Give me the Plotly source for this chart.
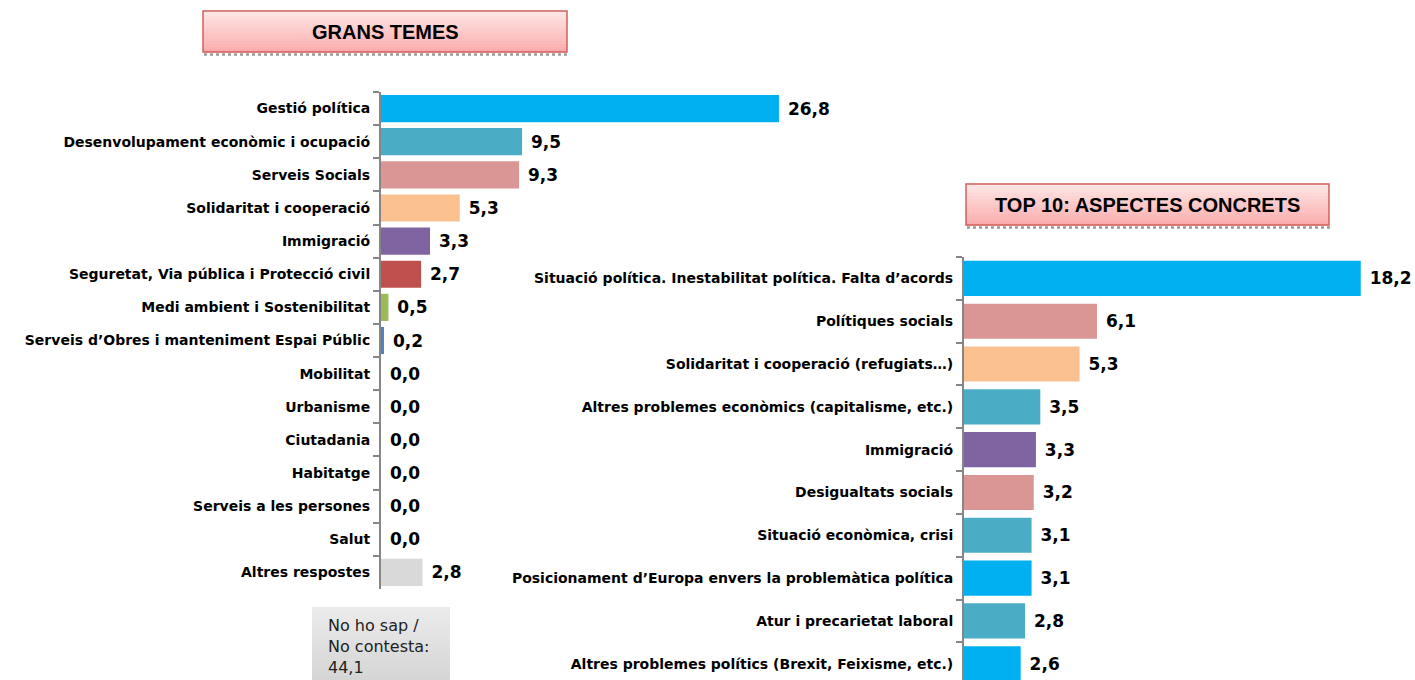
import plotly.graph_objects as go

# ---- Data: GRANS TEMES ----
left_cats = [
    "Gestió política",
    "Desenvolupament econòmic i ocupació",
    "Serveis Socials",
    "Solidaritat i cooperació",
    "Immigració",
    "Seguretat, Via pública i Protecció civil",
    "Medi ambient i Sostenibilitat",
    "Serveis d’Obres i manteniment Espai Públic",
    "Mobilitat",
    "Urbanisme",
    "Ciutadania",
    "Habitatge",
    "Serveis a les persones",
    "Salut",
    "Altres respostes",
]
left_vals = [26.8, 9.5, 9.3, 5.3, 3.3, 2.7, 0.5, 0.2, 0.0, 0.0, 0.0, 0.0, 0.0, 0.0, 2.8]
left_colors = ["#00B0F0", "#4BACC6", "#D99694", "#FAC090", "#8064A2", "#C0504D",
               "#9BBB59", "#4F81BD", "#FFFFFF", "#FFFFFF", "#FFFFFF", "#FFFFFF",
               "#FFFFFF", "#FFFFFF", "#D9D9D9"]

# ---- Data: TOP 10 ----
right_cats = [
    "Situació política. Inestabilitat política. Falta d’acords",
    "Polítiques socials",
    "Solidaritat i cooperació (refugiats…)",
    "Altres problemes econòmics (capitalisme, etc.)",
    "Immigració",
    "Desigualtats socials",
    "Situació econòmica, crisi",
    "Posicionament d’Europa envers la problemàtica política",
    "Atur i precarietat laboral",
    "Altres problemes polítics (Brexit, Feixisme, etc.)",
]
right_vals = [18.2, 6.1, 5.3, 3.5, 3.3, 3.2, 3.1, 3.1, 2.8, 2.6]
right_colors = ["#00B0F0", "#D99694", "#FAC090", "#4BACC6", "#8064A2", "#D99694",
                "#4BACC6", "#00B0F0", "#4BACC6", "#00B0F0"]

nsnc_text = "No ho sap /<br>No contesta:<br>44,1"
title_left = "GRANS TEMES"
title_right = "TOP 10: ASPECTES CONCRETS"


def fmt(v):
    return " " + f"{v:.1f}".replace(".", ",")


FONT = "DejaVu Sans"
W, H = 1415, 680


def px(x):
    return x / W


def py(y):
    return 1 - y / H


fig = go.Figure()
fig.add_trace(go.Bar(
    y=left_cats, x=left_vals, orientation="h",
    marker=dict(color=left_colors, line=dict(width=0)),
    text=[fmt(v) for v in left_vals], textposition="outside",
    textfont=dict(family=FONT, size=17, color="#000000", weight="bold"),
    constraintext="none", cliponaxis=False,
    xaxis="x", yaxis="y", showlegend=False, hoverinfo="skip",
))
fig.add_trace(go.Bar(
    y=right_cats, x=right_vals, orientation="h",
    marker=dict(color=right_colors, line=dict(width=0)),
    text=[fmt(v) for v in right_vals], textposition="outside",
    textfont=dict(family=FONT, size=17, color="#000000", weight="bold"),
    constraintext="none", cliponaxis=False,
    xaxis="x2", yaxis="y2", showlegend=False, hoverinfo="skip",
))

# left axis geometry (screen px)
lx0, lscale, lx1 = 381, 14.85, 900
# right axis geometry
rx0, rscale, rx1 = 964, 21.8, 1415

ax_common = dict(showgrid=False, zeroline=False, showticklabels=False, showline=False, ticks="")
ycommon = dict(type="category", categoryorder="array",
               showline=True, linecolor="#868686", linewidth=2,
               ticks="outside", tickson="boundaries", ticklen=6, tickcolor="#868686", tickwidth=2,
               ticklabelstandoff=6,
               tickfont=dict(family=FONT, size=14, color="#000000", weight="bold"),
               showgrid=False, zeroline=False)
fig.update_layout(
    width=W, height=H,
    margin=dict(l=0, r=0, t=0, b=0),
    paper_bgcolor="white", plot_bgcolor="rgba(0,0,0,0)",
    bargap=0.18,
    font=dict(family=FONT, size=13, color="#000000"),
    xaxis=dict(domain=[px(lx0), px(lx1)], range=[0, (lx1 - lx0) / lscale], **ax_common),
    yaxis=dict(domain=[py(589), py(92)], categoryarray=left_cats,
               range=[len(left_cats) - 0.5, -0.5], anchor="x", **ycommon),
    xaxis2=dict(domain=[px(rx0), 1], range=[0, (rx1 - rx0) / rscale], anchor="y2", **ax_common),
    yaxis2=dict(domain=[0, py(257)], categoryarray=right_cats,
                range=[9.38, -0.5], anchor="x2", **ycommon),
)

shapes = []
annotations = []


def lerp(c1, c2, t):
    return "#%02X%02X%02X" % tuple(round(a + (b - a) * t) for a, b in zip(c1, c2))


def grad_box(x0, y0, x1, y1, ctop, cbot, border=None, n=14):
    h = (y1 - y0) / n
    for i in range(n):
        shapes.append(dict(type="rect", xref="paper", yref="paper", layer="below",
                           x0=px(x0), x1=px(x1),
                           y0=py(y0 + (i + 1) * h + 0.5), y1=py(y0 + i * h),
                           fillcolor=lerp(ctop, cbot, (i + 0.5) / n), line=dict(width=0)))
    if border:
        shapes.append(dict(type="rect", xref="paper", yref="paper",
                           x0=px(x0), x1=px(x1), y0=py(y1), y1=py(y0),
                           fillcolor="rgba(0,0,0,0)", line=dict(color=border, width=1.5)))


def title_box(x0, y0, x1, y1, text, size):
    shapes.append(dict(type="line", xref="paper", yref="paper",
                       x0=px(x0 + 1), x1=px(x1 + 1), y0=py(y1 + 2.5), y1=py(y1 + 2.5),
                       line=dict(color="#9A9A9A", width=2.5, dash="dot")))
    grad_box(x0, y0, x1, y1, (255, 232, 232), (250, 170, 170), border="#D0605C")
    annotations.append(dict(xref="paper", yref="paper", x=px((x0 + x1) / 2), y=py((y0 + y1) / 2),
                            text="<b>" + text + "</b>", showarrow=False,
                            font=dict(family="Liberation Sans", size=size, color="#000000"),
                            xanchor="center", yanchor="middle"))


title_box(203, 11, 567, 52, title_left, 20)
title_box(966, 184, 1329, 225, title_right, 20)

# No ho sap box
grad_box(312, 607, 450, 681, (236, 236, 236), (212, 212, 212))
annotations.append(dict(xref="paper", yref="paper", x=px(326), y=py(614),
                        text=nsnc_text, showarrow=False, align="left",
                        font=dict(family=FONT, size=16, color="#222222"),
                        xanchor="left", yanchor="top"))

fig.update_layout(shapes=shapes, annotations=annotations)
fig.write_html("out.html", config={"displayModeBar": False},
               post_script="document.body.style.margin='0';document.body.style.overflow='hidden';")
